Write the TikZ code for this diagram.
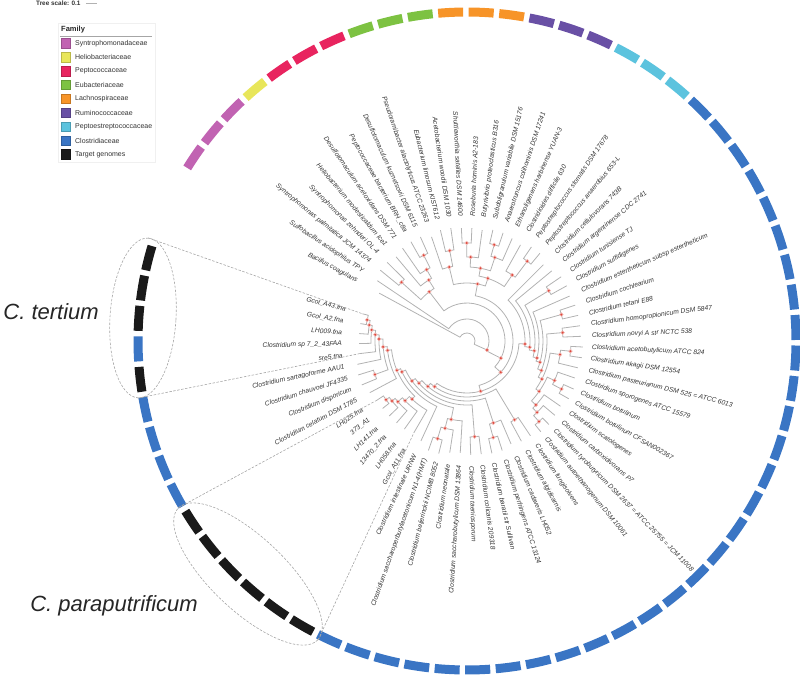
\documentclass[tikz,border=0pt]{standalone}
\usepackage{fontspec}
\setmainfont{Liberation Sans}
\setsansfont{Liberation Sans}
\usepackage{tikz}
\usetikzlibrary{shapes,positioning,calc}

\definecolor{synt}{RGB}{193,99,178}
\definecolor{helio}{RGB}{232,230,90}
\definecolor{pepto}{RGB}{232,36,95}
\definecolor{eubac}{RGB}{125,194,66}
\definecolor{lachno}{RGB}{247,148,40}
\definecolor{rumino}{RGB}{105,80,165}
\definecolor{peptostr}{RGB}{92,195,222}
\definecolor{clos}{RGB}{58,117,196}
\definecolor{target}{RGB}{26,26,26}
\definecolor{branch}{RGB}{178,178,178}
\definecolor{nodedot}{RGB}{222,72,60}
\definecolor{labeltext}{RGB}{51,51,51}

% leaf / tip radius / parent clade (first, last, radius) / family / name
\newcommand{\leaflist}{%
1/100/1/66/8/none/Bacillus coagulans,
2/108/2/66/22/synt/Sulfobacillus acidophilus TPY,
3/112/3/4/88/synt/Syntrophomonas palmitatica JCM 14374,
4/112/3/4/88/synt/Syntrophomonas zehnderi OL-4,
5/110/5/8/72/helio/Heliobacterium modesticaldum Ice1,
6/113/6/8/82/pepto/Desulfotomaculum acetoxidans DSM 771,
7/114/7/8/96/pepto/Peptococcaceae bacterium BRH\_c8a,
8/114/7/8/96/pepto/Desulfotomaculum kuznetsovii DSM 6115,
9/110/9/11/76/eubac/Pseudoramibacter alactolyticus ATCC 23263,
10/114/10/11/92/eubac/Eubacterium limosum KIST612,
11/114/10/11/92/eubac/Acetobacterium woodii DSM 1030,
12/113/12/13/98/lachno/Shuttleworthia satelles DSM 14600,
13/113/12/13/98/lachno/Roseburia hominis A2-183,
14/112/12/14/84/lachno/Butyrivibrio proteoclasticus B316,
15/114/15/16/100/rumino/Subdoligranulum variabile DSM 15176,
16/114/15/16/100/rumino/Anaerotruncus colihominis DSM 17241,
17/112/15/17/88/rumino/Ethanoligenens harbinense YUAN-3,
18/110/18/20/80/peptostr/Clostridioides difficile 630,
19/114/19/20/100/peptostr/Peptostreptococcus stomatis DSM 17678,
20/114/19/20/100/peptostr/Peptostreptococcus anaerobius 653-L,
21/108/21/39/58/clos/Clostridium cellulovorans 743B,
22/110/22/39/63/clos/Clostridium argentinense CDC 2741,
23/114/23/24/96/clos/Clostridium tunisiense TJ,
24/114/23/24/96/clos/Clostridium sulfidigenes,
25/112/25/39/72/clos/Clostridium estertheticum subsp estertheticum,
26/114/26/27/98/clos/Clostridium cochlearium,
27/114/26/27/98/clos/Clostridium tetani E88,
28/114/28/29/96/clos/Clostridium homopropionicum DSM 5847,
29/114/28/29/96/clos/Clostridium novyi A str NCTC 538,
30/116/30/31/104/clos/Clostridium acetobutylicum ATCC 824,
31/116/30/31/104/clos/Clostridium akagii DSM 12554,
32/114/30/32/94/clos/Clostridium pasteurianum DSM 525 = ATCC 6013,
33/114/33/35/96/clos/Clostridium sporogenes ATCC 15579,
34/117/34/35/106/clos/Clostridium botulinum,
35/117/34/35/106/clos/Clostridium botulinum CFSAN002367,
36/114/36/39/94/clos/Clostridium scatologenes,
37/115/37/39/100/clos/Clostridium carboxidivorans P7,
38/117/38/39/108/clos/Clostridium tyrobutyricum DSM 2637 = ATCC 25755 = JCM 11008,
39/117/38/39/108/clos/Clostridium autoethanogenum DSM 10061,
40/114/40/41/92/clos/Clostridium fungisolvens,
41/114/40/41/92/clos/Clostridium algidicarnis,
42/112/42/44/86/clos/Clostridium cadaveris LH052,
43/115/43/44/100/clos/Clostridium perfringens ATCC 13124,
44/115/43/44/100/clos/Clostridium baratii str Sullivan,
45/114/45/46/96/clos/Clostridium colicanis 209318,
46/114/45/46/96/clos/Clostridium taeniosporum,
47/112/47/50/80/clos/Clostridium saccharobutylicum DSM 13864,
48/113/48/50/90/clos/Clostridium neonatale,
49/116/49/50/102/clos/Clostridium beijerinckii NCIMB 8052,
50/116/49/50/102/clos/Clostridium saccharoperbutylacetonicum N1-4(HMT),
51/110/51/66/72/clos/Clostridium intestinale URNW,
52/106/52/57/80/target/Gcol\_A11.fna,
53/108/53/57/86/target/LH058.fna,
54/108/54/57/92/target/13470\_2.fna,
55/108/55/57/96/target/LH141.fna,
56/108/56/57/100/target/373\_A1,
57/108/56/57/100/target/LH025.fna,
58/110/58/66/80/clos/Clostridium celatum DSM 1785,
59/114/59/60/98/clos/Clostridium disporicum,
60/114/59/60/98/clos/Clostridium chauvoei JF4335,
61/112/61/66/88/clos/Clostridium sartagoforme AAU1,
62/108/62/66/92/target/sre5.fna,
63/108/63/66/96/clos/Clostridium sp 7\_2\_43FAA,
64/108/64/66/99/target/LH009.fna,
65/108/65/66/102/target/Gcol\_A2.fna,
66/108/65/66/102/target/Gcol\_A43.fna}

% clade (first, last, radius) / parent clade (first, last, radius)
\newcommand{\cladelist}{%
2/66/22/1/66/8, 3/66/38/2/66/22,
3/8/62/3/66/38, 3/4/88/3/8/62, 5/8/72/3/8/62, 6/8/82/5/8/72, 7/8/96/6/8/82,
9/66/46/3/66/38, 9/20/58/9/66/46, 9/11/76/9/20/58, 10/11/92/9/11/76,
12/20/66/9/20/58, 12/17/74/12/20/66, 12/14/84/12/17/74, 12/13/98/12/14/84,
15/17/88/12/17/74, 15/16/100/15/17/88, 18/20/80/12/20/66, 19/20/100/18/20/80,
21/66/52/9/66/46, 21/39/58/21/66/52, 22/39/63/21/39/58, 23/39/68/22/39/63,
23/24/96/23/39/68, 25/39/72/23/39/68, 26/39/76/25/39/72, 26/27/98/26/39/76,
28/39/80/26/39/76, 28/29/96/28/39/80, 30/39/84/28/39/80, 30/32/94/30/39/84,
30/31/104/30/32/94, 33/39/88/30/39/84, 33/35/96/33/39/88, 34/35/106/33/35/96,
36/39/94/33/39/88, 37/39/100/36/39/94, 38/39/108/37/39/100,
40/66/56/21/66/52, 40/41/92/40/66/56, 42/66/60/40/66/56, 42/44/86/42/66/60,
43/44/100/42/44/86, 45/66/64/42/66/60, 45/46/96/45/66/64, 47/66/68/45/66/64,
47/50/80/47/66/68, 48/50/90/47/50/80, 49/50/102/48/50/90, 51/66/72/47/66/68,
52/66/76/51/66/72, 52/57/80/52/66/76, 53/57/86/52/57/80, 54/57/92/53/57/86,
55/57/96/54/57/92, 56/57/100/55/57/96, 58/66/80/52/66/76, 59/66/84/58/66/80,
59/60/98/59/66/84, 61/66/88/59/66/84, 62/66/92/61/66/88, 63/66/96/62/66/92,
64/66/99/63/66/96, 65/66/102/64/66/99}

\begin{document}
\begin{tikzpicture}[
    x=1pt, y=1pt,
    font=\sffamily,
    leaflabel/.style={font=\fontsize{6.7}{7}\selectfont\itshape, text=labeltext, inner sep=0pt},
    ringseg/.style={line width=9pt},
    branchline/.style={draw=branch, line width=0.8pt},
    innerdot/.style={circle, fill=nodedot, draw=nodedot!35, line width=0.6pt, inner sep=0pt, minimum size=3.6pt},
    grpellipse/.style={ellipse, draw=gray!70, dash pattern=on 2.5pt off 1.5pt, line width=0.6pt, inner sep=0pt},
    linkline/.style={draw=gray!70, dash pattern=on 2.5pt off 1.5pt, line width=0.6pt},
    bigname/.style={font=\fontsize{22}{24}\selectfont\itshape, text=black!85, inner sep=0pt},
    legsquare/.style={rectangle, minimum size=9.5pt, inner sep=0pt, line width=0.5pt},
    legtext/.style={font=\fontsize{7}{8}\selectfont, text=black!80, anchor=west, inner sep=0pt}
]
\useasboundingbox (-467,-334) rectangle (333,341);

% === TREE SCALE + LEGEND ===
\node[anchor=base west, inner sep=0pt, font=\fontsize{6.4}{7}\selectfont\bfseries, text=black!80] (treescale) at (-431,335) {Tree scale: 0.1};
\draw[gray!60, line width=0.8pt] ([xshift=5]treescale.east) -- ++(11,0);

\draw[gray!12, line width=0.6pt] (-409,318) rectangle (-312,179);
\node[anchor=base west, inner sep=0pt, font=\fontsize{7.5}{8}\selectfont\bfseries, text=black!85] (famhead) at (-406,309) {Family};
\draw[gray!70, line width=0.6pt] (-407,305) -- (-315,305);
\foreach \fam/\famname [count=\n from 0] in {synt/Syntrophomonadaceae, helio/Heliobacteriaceae,
    pepto/Peptococcaceae, eubac/Eubacteriaceae, lachno/Lachnospiraceae, rumino/Ruminococcaceae,
    peptostr/Peptoestreptococcaceae, clos/Clostridiaceae, target/Target genomes}{
  \node[legsquare, fill=\fam, draw=\fam!80!black] (leg\n) at (-401,{297.7-13.9*\n}) {};
  \node[legtext] (legname\n) at (-392,{297.7-13.9*\n}) {\famname};
}

% === TREE ===
\foreach \i/\j/\rr/\ui/\uj/\ur in \cladelist {
  \pgfmathsetmacro\ang{151.4-((\i+\j)/2-1)*5.323}
  \pgfmathsetmacro\pang{151.4-((\ui+\uj)/2-1)*5.323}
  \draw[branchline] (\pang:\ur) arc[start angle=\pang, end angle=\ang, radius=\ur] -- (\ang:\rr);
}

% === LEAVES: branches, ring, labels ===
\foreach \k/\tip/\ui/\uj/\ur/\fam/\lbl in \leaflist {
  \pgfmathsetmacro\ang{151.4-(\k-1)*5.323}
  \pgfmathsetmacro\pang{151.4-((\ui+\uj)/2-1)*5.323}
  \draw[branchline] (\pang:\ur) arc[start angle=\pang, end angle=\ang, radius=\ur] -- (\ang:\tip) coordinate (tip\k);
  \draw[ringseg, draw=\fam] ({\ang+2.18}:329) arc[start angle=\ang+2.18, end angle=\ang-2.18, radius=329];
  \pgfmathtruncatemacro\lft{or(\ang>90,\ang<-90)}
  \ifnum\lft=1
    \node[leaflabel, anchor=east, rotate=\ang+180] (lab\k) at (\ang:125) {\lbl};
  \else
    \node[leaflabel, anchor=west, rotate=\ang] (lab\k) at (\ang:125) {\lbl};
  \fi
}

% node markers on top
\foreach \i/\j/\rr/\ui/\uj/\ur in \cladelist {
  \pgfmathsetmacro\ang{151.4-((\i+\j)/2-1)*5.323}
  \node[innerdot] (clade\i-\j) at (\ang:\rr) {};
}

% === TARGET GROUPS ===
\node[grpellipse, minimum width=66, minimum height=160, rotate=-3.6] (tertium) at (-324,23) {};
\node[grpellipse, minimum width=192, minimum height=74, rotate=-43.3] (paraput) at (-219,-233) {};

\draw[linkline] (tertium.north) -- (tip66);
\draw[linkline] (tertium.south) -- (tip62);
\draw[linkline] (paraput.west) -- (tip57);
\draw[linkline] (paraput.east) -- (tip52);

\node[bigname, anchor=east] (tertname) at (-368,29) {C. tertium};
\node[bigname, anchor=east] (paraname) at (-269,-265) {C. paraputrificum};

\end{tikzpicture}
\end{document}
